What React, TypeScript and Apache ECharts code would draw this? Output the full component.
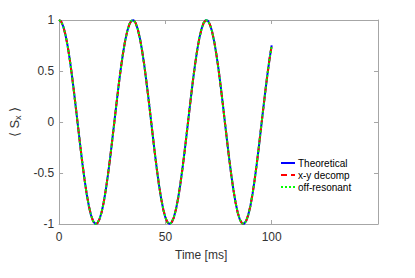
import React, { useEffect, useRef } from "react";
import * as echarts from "echarts";

const timeMs: number[] = Array.from({ length: 101 }, (_, i) => i);

const theoretical: number[] = [
  1, 0.984, 0.935, 0.856, 0.749, 0.617, 0.464, 0.297, 0.12, -0.061,
  -0.24, -0.411, -0.568, -0.708, -0.823, -0.912, -0.971, -0.998, -0.993, -0.954,
  -0.885, -0.787, -0.662, -0.516, -0.354, -0.179, 0.001, 0.181, 0.356, 0.518,
  0.664, 0.788, 0.886, 0.955, 0.993, 0.998, 0.971, 0.911, 0.822, 0.706,
  0.567, 0.409, 0.238, 0.059, -0.122, -0.299, -0.466, -0.618, -0.75, -0.857,
  -0.936, -0.984, -1.0, -0.983, -0.934, -0.854, -0.747, -0.615, -0.463, -0.295,
  -0.118, 0.063, 0.242, 0.413, 0.57, 0.709, 0.825, 0.913, 0.972, 0.998,
  0.992, 0.954, 0.884, 0.785, 0.661, 0.515, 0.352, 0.177, -0.003, -0.183,
  -0.358, -0.52, -0.666, -0.789, -0.887, -0.956, -0.993, -0.998, -0.97, -0.91,
  -0.821, -0.705, -0.565, -0.407, -0.236, -0.056, 0.124, 0.301, 0.468, 0.62,
  0.751,
];
const xyDecomp: number[] = theoretical.slice();
const offResonant: number[] = theoretical.slice();

const seriesNames = ["Theoretical", "x-y decomp", "off-resonant"];
const xTicks = [0, 50, 100, 150];
const yTicks = [-1, -0.5, 0, 0.5, 1];

const FONT = "'Liberation Sans', Arial, Helvetica, sans-serif";
const AXIS = "#a6a6a6";
const TXT = "#333333";

export default function App() {
  const ref = useRef<HTMLDivElement>(null);
  useEffect(() => {
    if (!ref.current) return;
    const chart = echarts.init(ref.current, undefined, { renderer: "svg" });
    const pair = (vals: number[]) => timeMs.map((t, i) => [t, vals[i]]);
    const axisCommon = {
      axisLine: { show: true, onZero: false, lineStyle: { color: AXIS, width: 1 } },
      axisTick: { show: true, inside: true, length: 4, lineStyle: { color: AXIS } },
      splitLine: { show: false },
    };
    chart.setOption({
      animation: false,
      textStyle: { fontFamily: FONT },
      grid: { left: 57, right: 37, top: 20, bottom: 54 },
      xAxis: [
        {
          type: "value",
          min: xTicks[0],
          max: xTicks[xTicks.length - 1],
          interval: 50,
          ...axisCommon,
          axisLabel: {
            color: TXT,
            fontSize: 12,
            fontFamily: FONT,
            margin: 7,
            showMaxLabel: false,
          },
        },
        {
          type: "value",
          position: "top",
          min: xTicks[0],
          max: xTicks[xTicks.length - 1],
          interval: 50,
          ...axisCommon,
          axisLabel: { show: false },
        },
      ],
      yAxis: [
        {
          type: "value",
          min: yTicks[0],
          max: yTicks[yTicks.length - 1],
          interval: 0.5,
          ...axisCommon,
          axisLabel: { color: TXT, fontSize: 12, fontFamily: FONT, margin: 5 },
          name: "{s|⟨ S}{sub|x}{s| ⟩}",
          nameLocation: "middle",
          nameRotate: 90,
          nameGap: 30,
          nameTextStyle: {
            rich: {
              s: { fontSize: 13, color: TXT, fontFamily: FONT, lineHeight: 16, verticalAlign: "middle" },
              sub: { fontSize: 9, color: TXT, fontFamily: FONT, lineHeight: 9, verticalAlign: "bottom" },
            },
          },
        },
        {
          type: "value",
          position: "right",
          min: yTicks[0],
          max: yTicks[yTicks.length - 1],
          interval: 0.5,
          ...axisCommon,
          axisLabel: { show: false },
        },
      ],
      legend: {
        orient: "vertical",
        left: 280,
        top: 158,
        padding: 0,
        itemGap: 2,
        itemWidth: 14,
        itemHeight: 10,
        itemStyle: { opacity: 0 },
        textStyle: { fontSize: 10, color: "#000", fontFamily: FONT, padding: [0, 0, 0, -2] },
        data: seriesNames,
      },
      graphic: [
        {
          type: "text",
          left: 175,
          top: 249,
          style: { text: "Time [ms]", fontSize: 12, fill: TXT, font: `12px ${FONT}` },
        },
      ],
      series: [
        {
          name: seriesNames[0],
          type: "line",
          data: pair(theoretical),
          symbol: "none",
          lineStyle: { color: "#0000ff", width: 2, type: "solid" },
          itemStyle: { color: "#0000ff" },
        },
        {
          name: seriesNames[1],
          type: "line",
          data: pair(xyDecomp),
          symbol: "none",
          lineStyle: { color: "#ff0000", width: 2, type: [6, 4] },
          itemStyle: { color: "#ff0000" },
        },
        {
          name: seriesNames[2],
          type: "line",
          data: pair(offResonant),
          symbol: "none",
          lineStyle: { color: "#00ff00", width: 2, type: [2, 2] },
          itemStyle: { color: "#00ff00" },
        },
      ],
    });
    return () => chart.dispose();
  }, []);
  return (
    <div
      ref={ref}
      style={{ position: "fixed", left: 0, top: 0, width: 415, height: 278, background: "#fff" }}
    />
  );
}
